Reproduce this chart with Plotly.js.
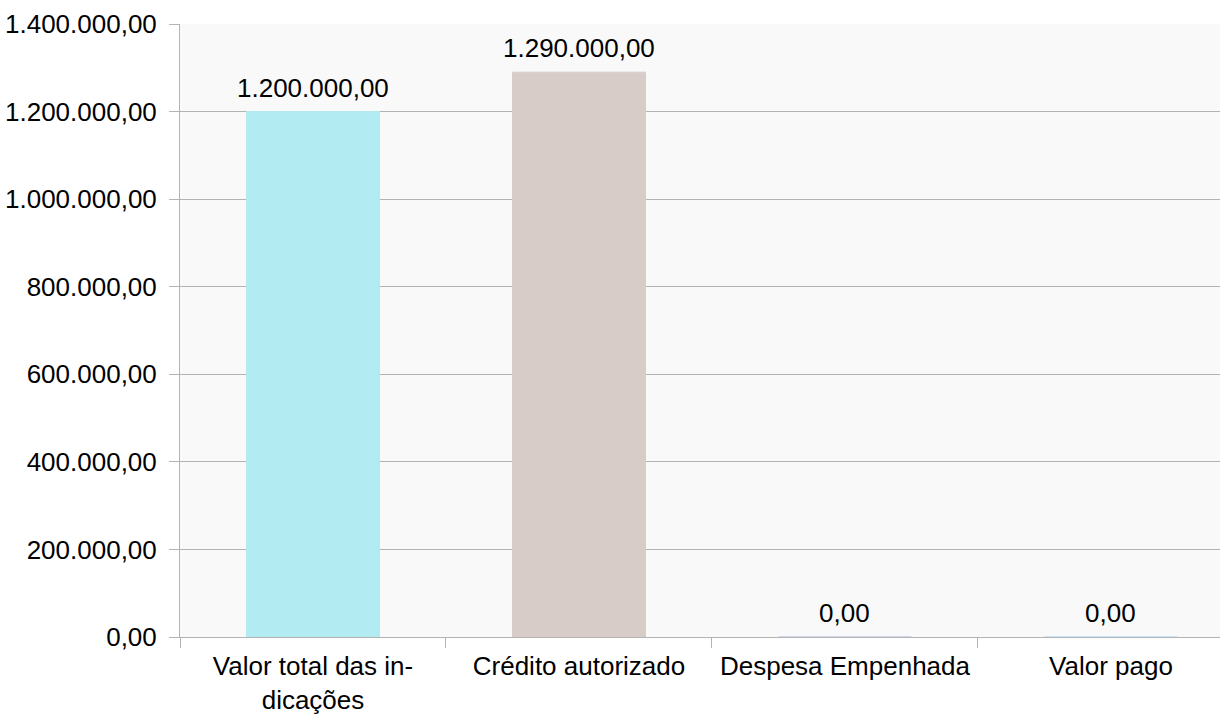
<!DOCTYPE html>
<html>
<head>
<meta charset="utf-8">
<script src="https://cdn.plot.ly/plotly-3.0.1.min.js"></script>
<style>
html,body{margin:0;padding:0;background:#fff;overflow:hidden;}
#chart{width:1220px;height:716px;}
</style>
</head>
<body>
<div id="chart"></div>
<script>
const categories = ["Valor total das in-<br>dicações", "Crédito autorizado", "Despesa Empenhada", "Valor pago"];
const values = [1200000, 1290000, 0, 0];
const barColors = ["#b2ebf2", "#d7ccc8", "#c5cae9", "#bbdefb"];
const yTicks = [0, 200000, 400000, 600000, 800000, 1000000, 1200000, 1400000];

const FONT = "Liberation Sans, Arial, sans-serif";
const FS = 26;

function fmt(v) {
  const parts = v.toFixed(2).split(".");
  parts[0] = parts[0].replace(/\B(?=(\d{3})+(?!\d))/g, ".");
  return parts[0] + "," + parts[1];
}

const trace = {
  type: "bar",
  x: categories,
  y: values,
  marker: {color: barColors, line: {color: barColors, width: 1}},
  hoverinfo: "none"
};

const annotations = categories.map((c, i) => ({
  x: c,
  y: values[i],
  xref: "x",
  yref: "y",
  text: fmt(values[i]),
  showarrow: false,
  xanchor: "center",
  yanchor: "bottom",
  yshift: 7,
  font: {family: FONT, size: FS, color: "#000"}
}));

const layout = {
  width: 1220,
  height: 716,
  margin: {l: 180, r: 0, t: 24, b: 79, pad: 0},
  paper_bgcolor: "#ffffff",
  plot_bgcolor: "#f9f9f9",
  separators: ",.",
  bargap: 0.5,
  showlegend: false,
  font: {family: FONT, size: FS, color: "#000"},
  annotations: annotations,
  xaxis: {
    type: "category",
    range: [-0.5, 3.41],
    tickson: "boundaries",
    ticks: "outside",
    ticklen: 10,
    tickcolor: "#b3b3b3",
    showgrid: false,
    showline: true,
    linecolor: "#b3b3b3",
    linewidth: 1,
    ticklabelstandoff: 6,
    tickfont: {family: FONT, size: FS, color: "#000"},
    fixedrange: true
  },
  yaxis: {
    range: [0, 1400000],
    tickvals: yTicks,
    tickformat: ",.2f",
    ticks: "outside",
    ticklen: 10,
    tickcolor: "#b3b3b3",
    showgrid: true,
    gridcolor: "#b3b3b3",
    gridwidth: 1,
    showline: true,
    linecolor: "#b3b3b3",
    zeroline: false,
    ticklabelstandoff: 7,
    tickfont: {family: FONT, size: FS, color: "#000"},
    fixedrange: true
  }
};

Plotly.newPlot("chart", [trace], layout, {staticPlot: true, displayModeBar: false});
</script>
</body>
</html>
